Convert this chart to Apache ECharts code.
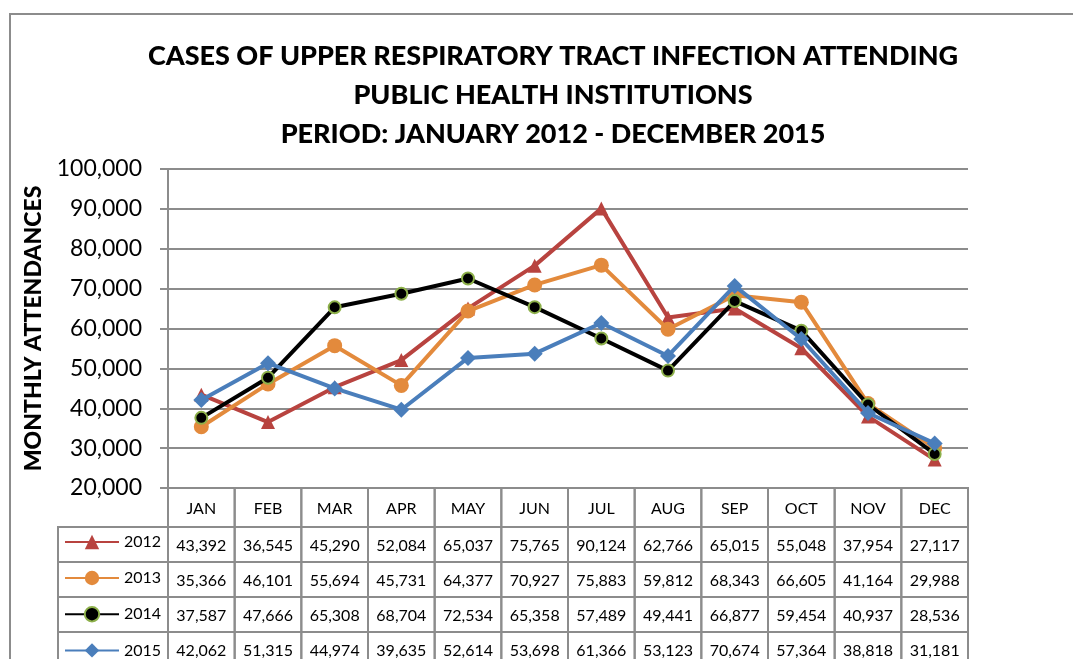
<!DOCTYPE html>
<html>
<head>
<meta charset="utf-8">
<script src="https://cdn.jsdelivr.net/npm/echarts@6/dist/echarts.min.js"></script>
<style>html,body{margin:0;padding:0;background:#fff}#c{width:1073px;height:659px}</style>
</head>
<body>
<div id="c"></div>
<script>
var months = ['JAN','FEB','MAR','APR','MAY','JUN','JUL','AUG','SEP','OCT','NOV','DEC'];
var years = ['2012','2013','2014','2015'];
var s2012 = [43392,36545,45290,52084,65037,75765,90124,62766,65015,55048,37954,27117];
var s2013 = [35366,46101,55694,45731,64377,70927,75883,59812,68343,66605,41164,29988];
var s2014 = [37587,47666,65308,68704,72534,65358,57489,49441,66877,59454,40937,28536];
var s2015 = [42062,51315,44974,39635,52614,53698,61366,53123,70674,57364,38818,31181];
var yTicks = {min:20000, max:100000, interval:10000};
var titleLines = ['CASES OF UPPER RESPIRATORY TRACT INFECTION ATTENDING','PUBLIC HEALTH INSTITUTIONS','PERIOD: JANUARY 2012 - DECEMBER 2015'];
var yName = 'MONTHLY ATTENDANCES';

var allSeries = [s2012, s2013, s2014, s2015];
var FONT = 'Lato';
var GRIDC = '#8c8c8c';
function fmt(v){ return v.toLocaleString('en-US'); }

var chart = echarts.init(document.getElementById('c'));

var HEADER_H = 39, ROW_H = 35, LEG_W = 110;

function renderTable(params, api){
  var i = params.dataIndex;
  var p = api.coord([i, yTicks.min]);
  var bw = api.size([1,0])[0];
  var x0 = p[0] - bw/2, y0 = p[1];
  var children = [];
  var st = {fill:'none', stroke:GRIDC, lineWidth:2};
  children.push({type:'rect', shape:{x:x0, y:y0, width:bw, height:HEADER_H}, style:st});
  children.push({type:'text', style:{text:months[i], x:p[0], y:y0+HEADER_H/2+1, align:'center', verticalAlign:'middle', font:'16px '+FONT, fill:'#000'}});
  for (var r=0;r<4;r++){
    var ry = y0 + HEADER_H + r*ROW_H;
    children.push({type:'rect', shape:{x:x0, y:ry, width:bw, height:ROW_H}, style:st});
    children.push({type:'text', style:{text:fmt(allSeries[r][i]), x:p[0], y:ry+ROW_H/2+1, align:'center', verticalAlign:'middle', font:'16px '+FONT, fill:'#000'}});
    if (i===0){
      children.push({type:'rect', shape:{x:x0-LEG_W, y:ry, width:LEG_W, height:ROW_H}, style:st});
    }
  }
  return {type:'group', children:children};
}

var styles = [
  {color:'#b8433f', symbol:'triangle', size:14, border:'#b8433f'},
  {color:'#e38a3c', symbol:'circle', size:15, border:'#e38a3c'},
  {color:'#000000', symbol:'circle', size:12, border:'#8db04a'},
  {color:'#4a7ebb', symbol:'diamond', size:16, border:'#4a7ebb'}
];

var series = years.map(function(y, k){
  var s = styles[k];
  return {
    name: y, type:'line', data: allSeries[k],
    symbol: s.symbol, symbolSize: s.size, showAllSymbol:true,
    lineStyle:{color:s.color, width:4},
    itemStyle:{color:s.color, borderColor:s.border, borderWidth: k===2?2:0},
    z: 3+k, animation:false
  };
});
series.push({
  type:'custom', renderItem: renderTable, data: months.map(function(m,i){return [i, yTicks.min];}),
  clip:false, silent:true, z:1, animation:false, tooltip:{show:false}
});

chart.setOption({
  animation:false,
  graphic:[{type:'rect', shape:{x:10, y:14, width:1200, height:800}, style:{fill:'none', stroke:'#8c8c8c', lineWidth:2}, silent:true}],
  title:{
    text: titleLines.join('\n'), left:548, top:32, textAlign:'center',
    textStyle:{fontFamily:FONT, fontWeight:900, fontSize:27, lineHeight:39, color:'#000'}
  },
  legend:{
    orient:'vertical', left:64, top:534, height:150, padding:0, itemWidth:54, itemHeight:18, itemGap:20, itemTextGap:6,
    data: years, textStyle:{fontFamily:FONT, fontSize:16, color:'#000'},
    selectedMode:false
  },
  grid:{left:168, right:105, top:169, bottom:171, containLabel:false},
  xAxis:{
    type:'category', data: months, boundaryGap:true,
    axisLine:{show:false}, axisTick:{show:false}, axisLabel:{show:false}, splitLine:{show:false}
  },
  yAxis:{
    type:'value', min:yTicks.min, max:yTicks.max, interval:yTicks.interval,
    name: yName, nameLocation:'middle', nameGap:123, nameRotate:90,
    nameTextStyle:{fontFamily:FONT, fontWeight:900, fontSize:23, color:'#000'},
    axisLine:{show:true, lineStyle:{color:GRIDC, width:2}},
    axisTick:{show:true, length:8, lineStyle:{color:GRIDC, width:2}},
    axisLabel:{fontFamily:FONT, fontSize:23, color:'#000', margin:26, formatter:function(v){return fmt(v);}},
    splitLine:{show:true, lineStyle:{color:GRIDC, width:2}}
  },
  series: series
});
</script>
</body>
</html>
